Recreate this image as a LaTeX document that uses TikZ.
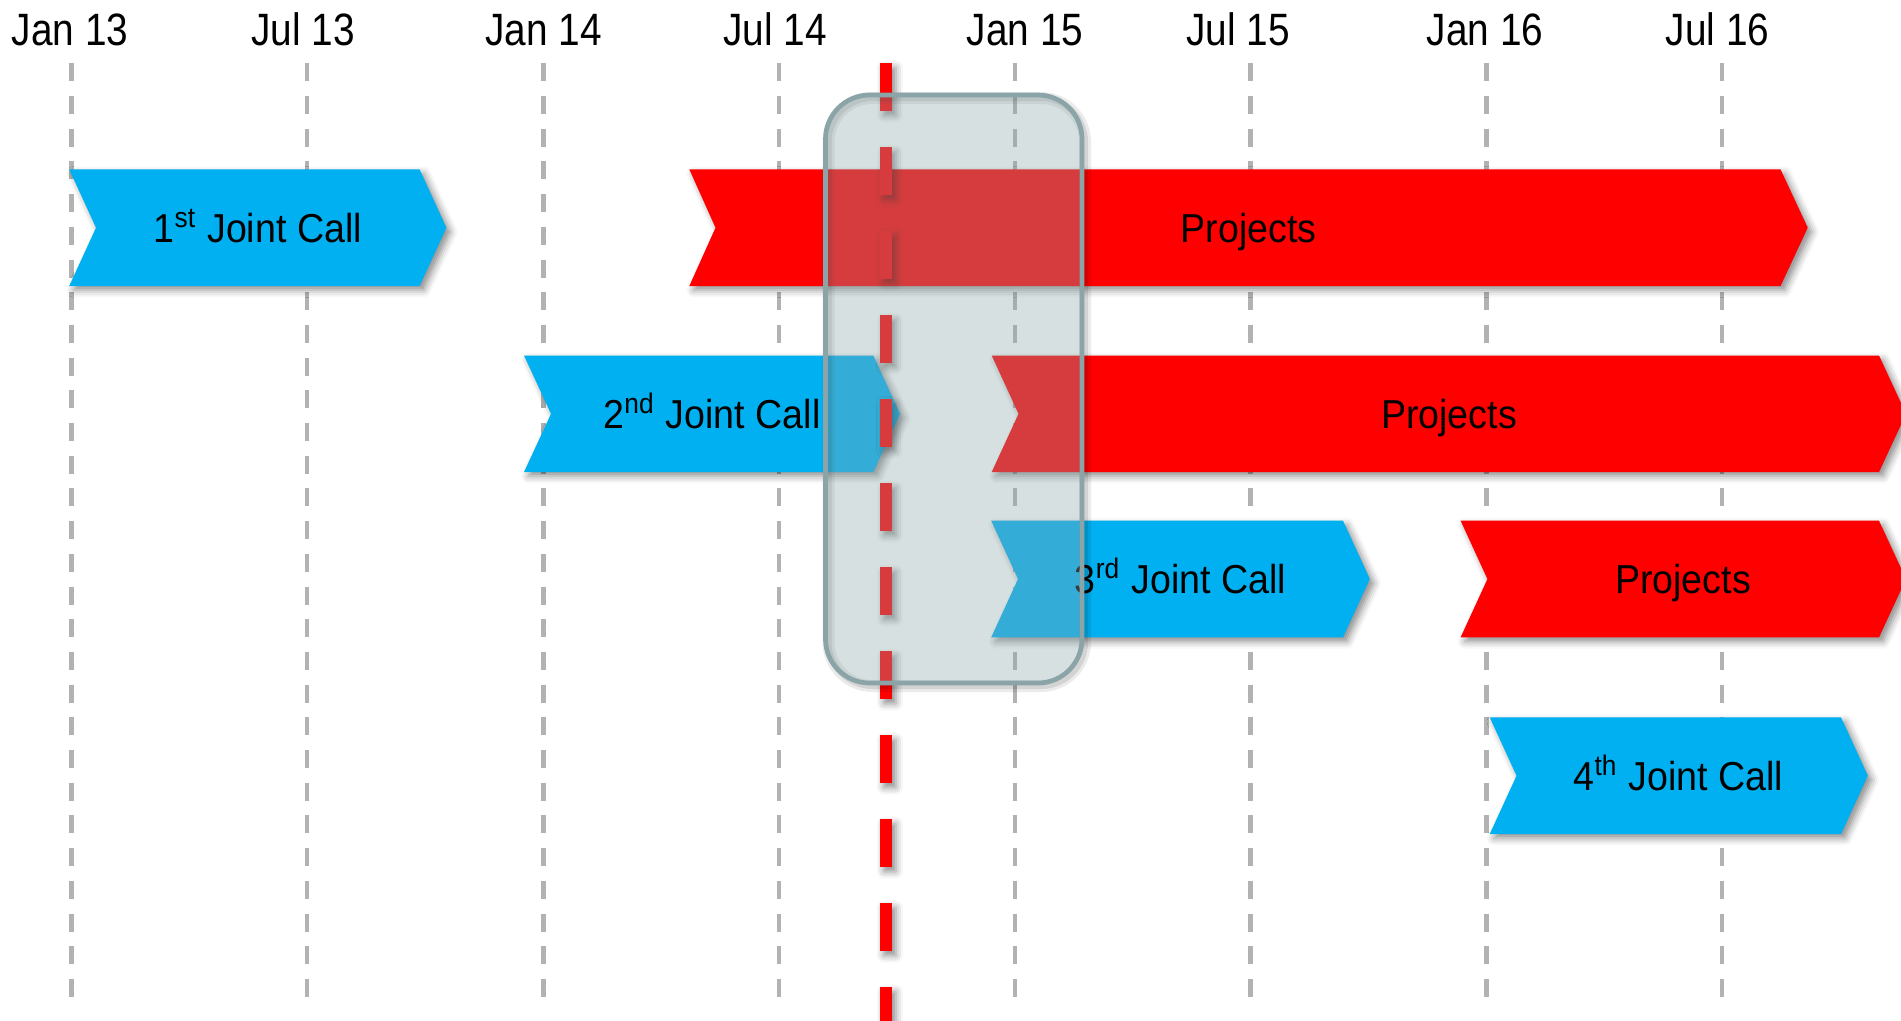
\documentclass[tikz,border=0pt]{standalone}
\usepackage{fontspec}
\setmainfont{Liberation Sans}
\newfontfamily\datefont[FakeStretch=0.855]{Liberation Sans}
\newfontfamily\callfont[FakeStretch=0.93]{Liberation Sans}
\usetikzlibrary{shadows.blur}

\definecolor{callblue}{RGB}{0,176,240}
\definecolor{projred}{RGB}{255,0,0}
\definecolor{gridgray}{RGB}{178,178,178}
\definecolor{windowfill}{RGB}{144,169,171}
\definecolor{windowline}{RGB}{139,164,168}

\tikzset{
	gridline/.style={gridgray, line width=0.46mm, dash pattern=on 1.8mm off 1.47mm},
	datelabel/.style={anchor=base, inner sep=0pt, font=\datefont\fontsize{12.9}{15}\selectfont},
	softshadow/.style={blur shadow={shadow xshift=1.2pt, shadow yshift=-1.2pt, shadow blur radius=2pt, shadow opacity=45}},
	callbox/.style={fill=callblue, softshadow},
	projbox/.style={fill=projred, softshadow},
	calltext/.style={anchor=base, inner sep=0pt, font=\callfont\fontsize{11.5}{14}\selectfont},
	todaymark/.style={fill=projred, softshadow},
	windowbox/.style={rounded corners=4.4mm},
}

\begin{document}
\begin{tikzpicture}[x=0.1mm,y=-0.1mm]
	\useasboundingbox (0,0) rectangle (1901,1020);
	% time axis
	\foreach \gx/\lx/\txt [count=\i] in {71.4/70/Jan 13, 307.1/303/Jul 13, 543.3/543.5/Jan 14, 779/775/Jul 14,
		1015/1025/Jan 15, 1250.5/1238/Jul 15, 1486.5/1485/Jan 16, 1722/1717.5/Jul 16}{
		\draw[gridline] (\gx,63.3) -- (\gx,997);
		\node[datelabel] (date\i) at (\lx,45) {\txt};
	}
	% calls and projects
	\fill[callbox] (69.2,169.3) -- (419.6,169.3) -- (446.4,227.7) -- (419.6,286) -- (69.2,286) -- (96,227.7) -- cycle;
	\node[calltext] (call1) at (257.8,242.3) {1\textsuperscript{st} Joint Call};
	\fill[projbox] (689.3,169.3) -- (1780.5,169.3) -- (1807.7,227.7) -- (1780.5,286) -- (689.3,286) -- (715.5,227.7) -- cycle;
	\node[calltext] (proj1) at (1248.5,242.3) {Projects};

	\fill[callbox] (524,355.5) -- (873.3,355.5) -- (900,413.8) -- (873.3,472) -- (524,472) -- (551,413.8) -- cycle;
	\node[calltext] (call2) at (712,428.4) {2\textsuperscript{nd} Joint Call};
	\fill[projbox] (991.7,355.5) -- (1879,355.5) -- (1906,413.8) -- (1879,472) -- (991.7,472) -- (1018.5,413.8) -- cycle;
	\node[calltext] (proj2) at (1449,428.4) {Projects};

	\fill[callbox] (991.2,520.7) -- (1343,520.7) -- (1369.8,579) -- (1343,637.3) -- (991.2,637.3) -- (1018,579) -- cycle;
	\node[calltext] (call3) at (1180.5,593.6) {3\textsuperscript{rd} Joint Call};
	\fill[projbox] (1460.6,520.7) -- (1879,520.7) -- (1906,579) -- (1879,637.3) -- (1460.6,637.3) -- (1487.4,579) -- cycle;
	\node[calltext] (proj3) at (1683,593.6) {Projects};

	\fill[callbox] (1489.7,717.3) -- (1841,717.3) -- (1867.8,775.7) -- (1841,834) -- (1489.7,834) -- (1516.5,775.7) -- cycle;
	\node[calltext] (call4) at (1678.5,790.3) {4\textsuperscript{th} Joint Call};

	% today
	\foreach \k in {0,...,11}
		\fill[todaymark] (879.5,{63.3+84*\k}) rectangle (891.7,{111.3+84*\k});

	% current window
	\draw[windowbox, black, opacity=0.08, line width=1.2mm] (828.5,98) rectangle (1085,686);
	\draw[windowbox, black, opacity=0.1, line width=0.6mm] (828.5,98) rectangle (1085,686);
	\fill[windowbox, windowfill, opacity=0.36] (825.5,95) rectangle (1082,683);
	\draw[windowbox, windowline, line width=0.47mm] (825.5,95) rectangle (1082,683);
\end{tikzpicture}
\end{document}
